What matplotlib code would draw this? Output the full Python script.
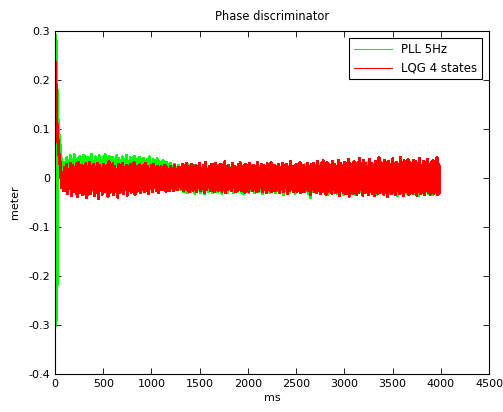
import matplotlib.pyplot as plt
import numpy as np

# start-up part (ms, meter)
pll_t0 = [0, 2, 4, 6, 8, 10, 12, 14, 16, 18, 20, 22, 25, 30, 40, 50, 60, 70, 80, 90]
pll_v0 = [0.0, 0.29, -0.28, 0.29, -0.30, 0.28, -0.29, 0.27, -0.27, 0.25, -0.22, 0.18,
          0.05, 0.12, 0.09, 0.07, 0.045, 0.02, 0.012, 0.03]
lqg_t0 = [0, 4, 8, 12, 16, 20, 30, 40, 50, 60, 70, 80, 90]
lqg_v0 = [0.235, 0.18, 0.22, 0.14, 0.12, 0.11, 0.08, 0.05, 0.035, 0.01, -0.02, 0.01, -0.025]

# after start-up: spike tops (at 100, 120, ... ms) and bottoms (at 110, 130, ... ms), in mm
pll_hi = [32, 41, 36, 45, 38, 47, 33, 40, 44, 37,
          46, 35, 42, 39, 48, 34, 43, 38, 45, 36,
          41, 47, 33, 44, 39, 42, 36, 45, 40, 35,
          43, 38, 46, 34, 41, 37, 44, 33, 39, 42,
          36, 40, 34, 38, 43, 32, 37, 35, 39, 33,
          30, 35, 28, 32, 26, 30, 24, 27, 22, 25,
          18, 24, 15, 22, 27, 14, 20, 25, 17, 23,
          12, 21, 26, 16, 19, 24, 13, 22, 18, 25,
          15, 20, 27, 14, 23, 17, 21, 26, 12, 19,
          24, 16, 22, 18, 28, 13, 20, 25, 15, 21,
          17, 23, 14, 26, 19, 22, 12, 24, 18, 20,
          16, 27, 21, 13, 25, 19, 23, 15, 22, 17,
          26, 14, 20, 24, 18, 28, 16, 21, 25, 13,
          22, 19, 27, 15, 23, 20, 17, 26, 14, 24,
          21, 18, 29, 16, 22, 25, 19, 27, 15, 23,
          20, 30, 17, 24, 21, 26, 18, 31, 22, 19,
          27, 16, 25, 23, 32, 20, 28, 18, 26, 24,
          30, 21, 27, 19, 33, 23, 26, 17, 29, 22,
          25, 31, 20, 28, 24, 18, 30, 22, 27, 25,
          26, 21, 29, 23, 28]
pll_lo = [-8, -13, -5, -16, -10, -7, -14, -9, -12, -6,
          -15, -11, -8, -17, -10, -13, -6, -12, -9, -14,
          -11, -7, -16, -10, -13, -8, -15, -12, -9, -11,
          -14, -6, -12, -10, -16, -9, -13, -7, -11, -15,
          -10, -12, -8, -14, -11, -13, -9, -16, -12, -10,
          -14, -18, -15, -20, -17, -22, -19, -23, -21, -24,
          -24, -28, -21, -30, -25, -27, -22, -31, -26, -23,
          -29, -25, -32, -22, -27, -24, -30, -26, -21, -28,
          -25, -31, -23, -27, -29, -22, -26, -30, -24, -28,
          -23, -27, -32, -25, -21, -29, -26, -24, -30, -22,
          -28, -25, -31, -23, -27, -26, -29, -21, -25, -30,
          -24, -28, -22, -33, -26, -25, -29, -23, -27, -31,
          -26, -24, -30, -22, -28, -25, -32, -40, -27, -23,
          -29, -25, -31, -24, -28, -26, -33, -22, -27, -30,
          -25, -32, -28, -24, -34, -26, -29, -23, -31, -27,
          -33, -25, -30, -28, -35, -24, -29, -32, -26, -31,
          -28, -34, -25, -30, -27, -33, -29, -24, -32, -28,
          -30, -26, -35, -29, -27, -33, -25, -31, -34, -28,
          -27, -32, -29, -36, -26, -30, -33, -28, -31, -29,
          -34, -27, -30, -32, -28]
lqg_hi = [22, 28, 18, 30, 25, 20, 27, 32, 19, 26,
          24, 29, 17, 31, 23, 27, 21, 30, 25, 18,
          28, 22, 26, 33, 20, 29, 24, 17, 27, 25,
          30, 21, 26, 23, 28, 19, 31, 24, 22, 27,
          20, 25, 29, 23, 18, 26, 28, 21, 24, 20,
          23, 19, 26, 21, 18, 24, 20, 25, 17, 22,
          22, 27, 19, 30, 24, 21, 28, 17, 25, 23,
          29, 20, 26, 31, 18, 24, 27, 22, 30, 19,
          25, 28, 21, 33, 23, 26, 20, 29, 24, 22,
          27, 31, 19, 25, 28, 23, 30, 21, 26, 24,
          32, 20, 27, 25, 22, 29, 24, 31, 19, 26,
          23, 28, 21, 30, 25, 27, 22, 33, 24, 20,
          28, 25, 31, 23, 26, 21, 29, 24, 27, 30,
          26, 33, 24, 29, 35, 22, 31, 27, 25, 34,
          28, 23, 36, 30, 26, 32, 24, 38, 29, 27,
          33, 25, 31, 40, 27, 35, 29, 24, 37, 30,
          26, 34, 28, 41, 31, 25, 36, 30, 33, 27,
          39, 29, 32, 26, 42, 30, 35, 28, 37, 31,
          27, 36, 33, 29, 40, 25, 34, 31, 38, 28,
          32, 35, 30, 41, 27]
lqg_lo = [-25, -32, -21, -36, -28, -24, -38, -30, -22, -34,
          -27, -40, -26, -31, -23, -35, -29, -42, -25, -33,
          -28, -22, -37, -30, -26, -34, -24, -39, -29, -27,
          -31, -23, -35, -26, -29, -21, -33, -28, -24, -30,
          -20, -27, -25, -31, -22, -28, -19, -26, -30, -23,
          -24, -20, -27, -22, -25, -19, -26, -21, -24, -18,
          -22, -26, -18, -24, -28, -20, -25, -23, -27, -19,
          -25, -21, -29, -23, -20, -26, -24, -28, -18, -25,
          -23, -27, -20, -30, -24, -22, -26, -19, -28, -25,
          -21, -26, -24, -29, -22, -27, -20, -25, -23, -28,
          -26, -19, -27, -24, -30, -22, -25, -28, -21, -26,
          -24, -29, -23, -27, -20, -31, -25, -22, -28, -24,
          -27, -22, -30, -25, -28, -24, -26, -33, -23, -27,
          -29, -25, -32, -27, -24, -34, -28, -26, -31, -23,
          -30, -27, -35, -25, -29, -32, -26, -37, -28, -31,
          -26, -33, -29, -24, -35, -30, -27, -34, -28, -32,
          -36, -27, -31, -29, -25, -33, -30, -38, -27, -31,
          -29, -34, -26, -32, -30, -36, -28, -25, -33, -29,
          -31, -27, -35, -28, -32, -30, -34, -26, -29, -33,
          -28, -31, -25, -34, -30]


def build(t0, v0, hi, lo):
    t_hi = 100 + 20 * np.arange(len(hi))
    t_lo = 110 + 20 * np.arange(len(lo))
    t = np.concatenate([t0, t_hi, t_lo])
    v = np.concatenate([v0, np.array(hi) / 1000.0, np.array(lo) / 1000.0])
    idx = np.argsort(t, kind="stable")
    return t[idx], v[idx]


t_pll, v_pll = build(pll_t0, pll_v0, pll_hi, pll_lo)
t_lqg, v_lqg = build(lqg_t0, lqg_v0, lqg_hi, lqg_lo)

fig = plt.figure(figsize=(5.03, 4.12), dpi=100)
ax = fig.add_axes([0.1093, 0.0922, 0.8629, 0.8326])

ax.plot(t_pll, v_pll, color=(0, 1, 0), lw=1.6, antialiased=False, label="PLL 5Hz")
ax.plot(t_lqg, v_lqg, color=(1, 0, 0), lw=1.6, antialiased=False, label="LQG 4 states")

ax.set_xlim(0, 4500)
ax.set_ylim(-0.4, 0.3)
ax.set_xticks(np.arange(0, 4501, 500))
ax.set_yticks(np.arange(-0.4, 0.31, 0.1))
ax.set_yticklabels(["-0.4", "-0.3", "-0.2", "-0.1", "0", "0.1", "0.2", "0.3"])
ax.tick_params(direction="in", top=True, right=True, labelsize=8, length=4, width=0.6)
for s in ax.spines.values():
    s.set_linewidth(0.8)

ax.set_title("Phase discriminator", fontsize=8.3, pad=8)
ax.set_xlabel("ms", fontsize=8, labelpad=3)
ax.set_ylabel("meter", fontsize=8, labelpad=6)

leg = ax.legend(loc="upper right", fontsize=8.5, fancybox=False, framealpha=1,
                edgecolor="black", borderaxespad=0.6, handlelength=3.2)
leg.get_frame().set_linewidth(0.8)
for h in leg.get_lines():
    h.set_linewidth(0.8)

plt.savefig("out.png", dpi=100)
